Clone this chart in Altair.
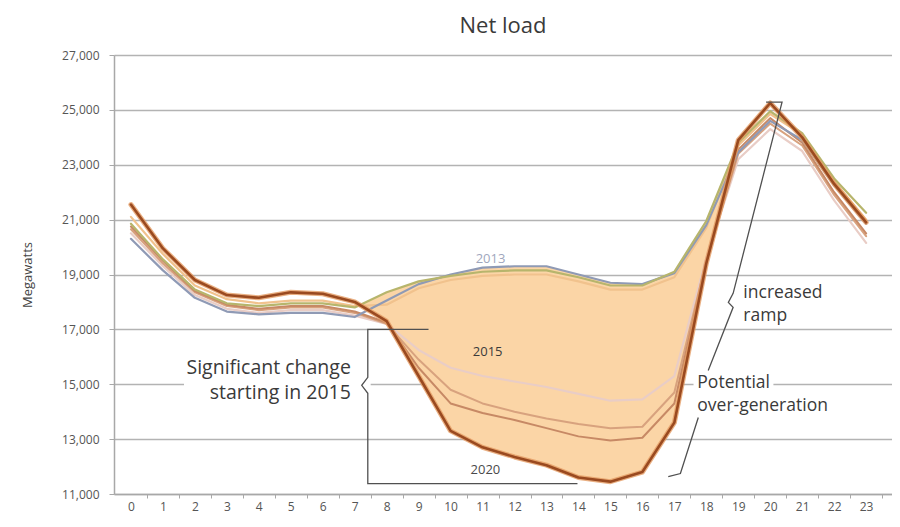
import altair as alt
import pandas as pd

hours = list(range(24))

# Net load (MW) by hour
s2012 = [20850, 19550, 18450, 17950, 17850, 17950, 17950, 17800, 18350, 18750, 18950, 19100,
         19150, 19150, 18900, 18600, 18600, 19100, 20950, 23800, 24950, 24150, 22500, 21250]
s2013 = [20300, 19150, 18150, 17650, 17550, 17600, 17600, 17450, 18050, 18650, 19000, 19250,
         19300, 19300, 19000, 18700, 18650, 19050, 20800, 23450, 24600, 23900, 22250, 20850]
s2014 = [21100, 19750, 18600, 18100, 17950, 18050, 18050, 17850, 17900, 18500, 18800, 18950,
         19000, 19000, 18750, 18450, 18450, 18900, 20700, 23700, 24850, 24100, 22400, 21000]
s2015 = [20500, 19300, 18250, 17750, 17600, 17700, 17700, 17500, 17200, 16250, 15600, 15300,
         15100, 14900, 14650, 14400, 14450, 15300, 19600, 23200, 24300, 23500, 21700, 20150]
s2016 = [20650, 19400, 18350, 17850, 17700, 17800, 17800, 17600, 17200, 15900, 14800, 14300,
         14000, 13750, 13550, 13400, 13450, 14700, 19500, 23400, 24500, 23700, 21900, 20400]
s2017 = [20750, 19500, 18400, 17900, 17750, 17850, 17850, 17650, 17250, 15600, 14300, 13950,
         13700, 13400, 13100, 12950, 13050, 14300, 19450, 23550, 24700, 23800, 22000, 20500]
s2020 = [21550, 19950, 18800, 18250, 18150, 18350, 18300, 18000, 17300, 15300, 13300, 12700,
         12350, 12050, 11600, 11450, 11800, 13600, 19400, 23900, 25250, 24000, 22300, 20900]

y_ticks = [11000, 13000, 15000, 17000, 19000, 21000, 23000, 25000, 27000]

# shaded band (hours 7..19) between the top curve and the 2020 curve
fill_hours = list(range(7, 20))

# annotation texts (hour, MW)
lbl_text = ["2013", "2015", "2020"]
lbl_h = [11.25, 11.16, 11.09]
lbl_v = [19555, 16160, 11890]
lbl_col = ["#9fa7bd", "#3a3a3a", "#4a4a4a"]

sig_text = ["Significant change", "starting in 2015"]
sig_h = [6.88, 6.88]
sig_v = [15577, 14664]

ramp_text = ["increased", "ramp"]
ramp_h = [19.16, 19.16]
ramp_v = [18314, 17474]

over_text = ["Potential", "over-generation"]
over_h = [17.72, 17.72]
over_v = [15029, 14190]

# bracket paths (hour, MW)
br1_h = [9.31, 7.41, 7.41, 7.22, 7.41, 7.41, 13.97]
br1_v = [17000, 17000, 15250, 14960, 14670, 11380, 11380]
br2_h = [19.87, 20.37, 18.84, 18.69, 18.84, 18.06]
br2_v = [25285, 25285, 18314, 17985, 17803, 15504]
br3_h = [17.75, 17.19, 16.81]
br3_v = [13788, 11745, 11635]

# white masks behind text (hour range, MW range)
mask_h = [1.66, 17.6]
mask_h2 = [7.5, 20.1]
mask_v = [14820, 14820]
mask_v2 = [15180, 15180]

FONT = "Open Sans"

xs = alt.Scale(domain=[-0.53, 23.81], nice=False, zero=False)
ys = alt.Scale(domain=[11000, 27000], nice=False, zero=False)

xaxis = alt.Axis(values=hours, format="d", grid=False, domainColor="#a8a8a8", domainWidth=1.5,
                 tickColor="#a8a8a8", tickSize=4, tickOffset=16, labelOffset=-16,
                 labelPadding=3, labelFontSize=12, labelColor="#555555", labelFont=FONT)
yaxis = alt.Axis(values=y_ticks, format=",d", grid=True, gridColor="#b3b3b3", gridWidth=1.6,
                 domainColor="#a8a8a8", domainWidth=1.5, tickColor="#a8a8a8", tickSize=5,
                 labelPadding=10, labelFontSize=12, labelColor="#555555", labelFont=FONT,
                 titleFontSize=13, titleFontWeight="normal", titleColor="#444444",
                 titleFont=FONT, titlePadding=27)

X = alt.X("h:Q", scale=xs, axis=xaxis, title=None)
Y = alt.Y("v:Q", scale=ys, axis=yaxis, title="Megawatts")


def line_layer(vals, color, width, opacity=1.0):
    df = pd.DataFrame({"h": hours, "v": vals})
    return alt.Chart(df).mark_line(color=color, strokeWidth=width, opacity=opacity,
                                   strokeJoin="round", strokeCap="round").encode(x=X, y=Y)


mask_df = pd.DataFrame({"h": mask_h, "h2": mask_h2, "v": mask_v, "v2": mask_v2})
masks = alt.Chart(mask_df).mark_rect(color="white").encode(x=X, x2="h2:Q", y=Y, y2="v2:Q")

fill_df = pd.DataFrame({
    "h": fill_hours,
    "v": [max(s2012[h], s2013[h]) for h in fill_hours],
    "v2": [s2020[h] for h in fill_hours],
})
fill = alt.Chart(fill_df).mark_area(color="#fbd5a6", opacity=1).encode(x=X, y=Y, y2="v2:Q")


def path_layer(hs, vs):
    df = pd.DataFrame({"h": hs, "v": vs, "i": list(range(len(hs)))})
    return alt.Chart(df).mark_line(color="#505050", strokeWidth=1.3).encode(
        x=X, y=Y, order=alt.Order("i:Q"))


def text_layer(texts, hs, vs, size, color, align="left"):
    df = pd.DataFrame({"h": hs, "v": vs, "t": texts})
    return alt.Chart(df).mark_text(font=FONT, fontSize=size, color=color, align=align,
                                   baseline="middle").encode(x=X, y=Y, text="t:N")


lbl_layers = [
    text_layer([t], [h], [v], 13, c, align="center")
    for t, h, v, c in zip(lbl_text, lbl_h, lbl_v, lbl_col)
]

chart = alt.layer(
    masks,
    fill,
    line_layer(s2015, "#e9cdc6", 2.2),
    line_layer(s2016, "#d8a27e", 2.0),
    line_layer(s2017, "#c78965", 2.0),
    line_layer(s2014, "#f1c28d", 2.2),
    line_layer(s2013, "#8f9ab5", 2.2),
    line_layer(s2012, "#b7b56c", 2.2),
    line_layer(s2020, "#e39b63", 5.0, 0.8),
    line_layer(s2020, "#9a4a20", 2.6),
    path_layer(br1_h, br1_v),
    path_layer(br2_h, br2_v),
    path_layer(br3_h, br3_v),
    text_layer(sig_text, sig_h, sig_v, 19.5, "#3a3a3a", align="right"),
    text_layer(ramp_text, ramp_h, ramp_v, 17.5, "#3a3a3a"),
    text_layer(over_text, over_h, over_v, 17.5, "#3a3a3a"),
    *lbl_layers,
).properties(
    width=778,
    height=439,
    title=alt.TitleParams("Net load", fontSize=22, font=FONT, fontWeight="normal",
                          color="#3a3a3a", anchor="middle", offset=11),
    padding={"left": 106, "top": 47, "right": 0, "bottom": 20},
    autosize=alt.AutoSizeParams(type="none"),
).configure_view(stroke=None)

chart.save("out.html", embed_options={"renderer": "svg", "actions": False})
